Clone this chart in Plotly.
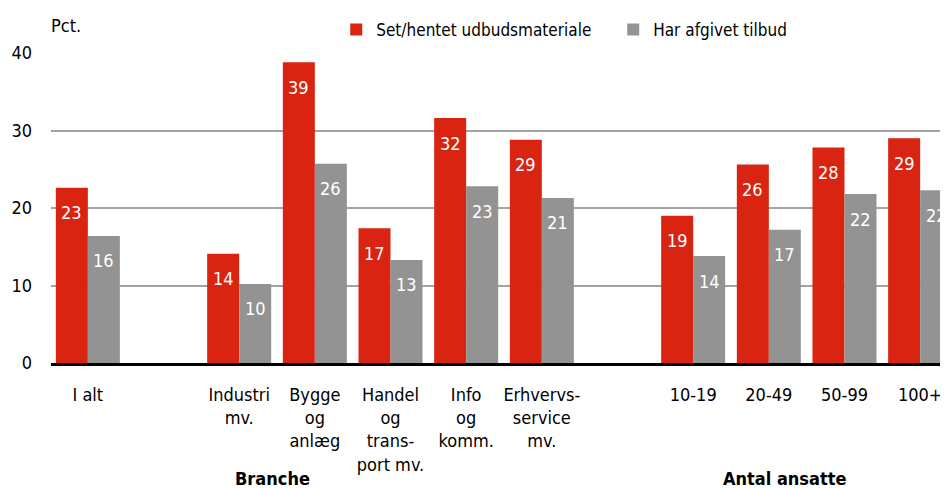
import plotly.graph_objects as go

# ---- data ----
group_all = ["I alt"]
group_branche = ["Industri<br>mv.", "Bygge<br>og<br>anlæg", "Handel<br>og<br>trans-<br>port mv.",
                 "Info<br>og<br>komm.", "Erhvervs-<br>service<br>mv."]
group_ansatte = ["10-19", "20-49", "50-99", "100+"]

set_hentet = [22.6, 14.1, 38.8, 17.4, 31.6, 28.8, 19.0, 25.6, 27.8, 29.0]
afgivet = [16.4, 10.2, 25.7, 13.3, 22.8, 21.3, 13.8, 17.2, 21.8, 22.3]

series_names = ["Set/hentet udbudsmateriale", "Har afgivet tilbud"]
group_titles = ["Branche", "Antal ansatte"]

RED = "#D82411"
GRAY = "#939393"
FONT = "Liberation Sans Narrow, DejaVu Sans Condensed, Arial Narrow, Roboto, sans-serif"
FS = 18

# positions: one empty slot between groups
labels, xpos = [], []
pos = 0
for g in [group_all, group_branche, group_ansatte]:
    for lab in g:
        labels.append(lab)
        xpos.append(pos)
        pos += 1
    pos += 1

fig = go.Figure()
fig.add_trace(go.Bar(x=xpos, y=set_hentet, name=series_names[0], marker_color=RED,
                     marker_line_width=0))
fig.add_trace(go.Bar(x=xpos, y=afgivet, name=series_names[1], marker_color=GRAY,
                     marker_line_width=0))

bargap = 0.154
half = (1 - bargap) / 4
annotations = []
for vals, off in [(set_hentet, -half), (afgivet, half)]:
    for xv, v in zip(xpos, vals):
        annotations.append(dict(x=xv + off, y=v, xref="x", yref="y", text=str(round(v)),
                                showarrow=False, yanchor="middle", yshift=-25,
                                font=dict(family=FONT, size=FS, color="white")))

annotations.append(dict(x=0.2464, y=-0.374, xref="paper", yref="paper", text="<b>" + group_titles[0] + "</b>",
                        showarrow=False, xanchor="center", yanchor="middle",
                        font=dict(family=FONT, size=FS, color="black")))
annotations.append(dict(x=0.8172, y=-0.374, xref="paper", yref="paper", text="<b>" + group_titles[1] + "</b>",
                        showarrow=False, xanchor="center", yanchor="middle",
                        font=dict(family=FONT, size=FS, color="black")))
annotations.append(dict(x=-0.002, y=1.09, xref="paper", yref="paper", text="Pct.",
                        showarrow=False, xanchor="left", yanchor="middle",
                        font=dict(family=FONT, size=FS, color="black")))

# page has an 8px body margin: size figure so that it ends at the 948x488 window edge
fig.update_layout(
    width=940, height=480,
    margin=dict(l=43, r=0, t=45, b=125),
    paper_bgcolor="white", plot_bgcolor="white",
    barmode="group", bargap=bargap, bargroupgap=0,
    font=dict(family=FONT, size=FS, color="black"),
    showlegend=True,
    legend=dict(orientation="h", x=0.318, y=1.074, xanchor="left", yanchor="middle",
                entrywidth=232, entrywidthmode="pixels",
                font=dict(family=FONT, size=17, color="black"), bgcolor="rgba(0,0,0,0)",
                itemclick=False),
    annotations=annotations,
    xaxis=dict(range=[-0.487, 11.368], tickvals=xpos, ticktext=labels, showgrid=False,
               zeroline=False, showline=True, linecolor="black", linewidth=3,
               ticks="", ticklabelstandoff=13, tickfont=dict(family=FONT, size=FS)),
    yaxis=dict(range=[0, 40], tickvals=[0, 10, 20, 30, 40], showgrid=True,
               gridcolor="#A3A3A3", gridwidth=2, zeroline=False, showline=False,
               ticks="", ticklabelstandoff=18, tickfont=dict(family=FONT, size=FS)),
)

fig.write_html("out.html")
